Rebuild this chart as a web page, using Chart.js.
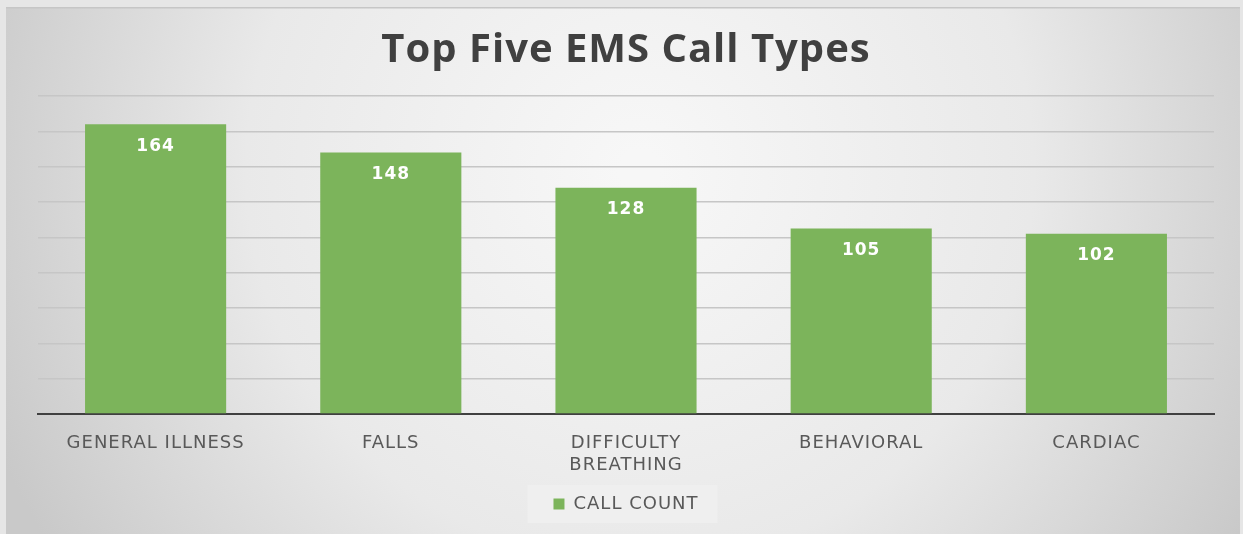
<!DOCTYPE html>
<html lang="en">
<head>
    <meta charset="UTF-8">
    <title>Top Five EMS Call Types</title>
    <style>
        html, body { margin: 0; padding: 0; background: #e6e6e6; }
        #wrap { width: 1243px; height: 534px; }
    </style>
</head>
<body>
    <div id="wrap"><canvas id="myChart" width="1243" height="534"></canvas></div>
    <script src="https://cdn.jsdelivr.net/npm/chart.js"></script>
    <script>
        // datos
        const categories = ['GENERAL ILLNESS', 'FALLS', ['DIFFICULTY', 'BREATHING'], 'BEHAVIORAL', 'CARDIAC'];
        const callCount = [164, 148, 128, 105, 102];
        const seriesName = 'CALL COUNT';
        const barColor = '#7cb45b';

        // el texto original es algo mas ancho: un poco de espaciado entre letras
        const spacing = {
            id: 'spacing',
            beforeUpdate(chart) { chart.ctx.letterSpacing = '1px'; }
        };

        // fondo con degradado y recuadro de la leyenda
        const backdrop = {
            id: 'backdrop',
            beforeDraw(chart) {
                const ctx = chart.ctx;
                const w = chart.width, h = chart.height;
                ctx.save();
                ctx.fillStyle = '#e6e6e6';
                ctx.fillRect(0, 0, w, h);
                const g = ctx.createRadialGradient(640, 170, 20, 640, 170, 700);
                g.addColorStop(0, '#f7f7f7');
                g.addColorStop(0.55, '#e9e9e9');
                g.addColorStop(1, '#c9c9c9');
                ctx.fillStyle = g;
                ctx.fillRect(6, 7, w - 9, h - 7);
                ctx.fillStyle = '#c6c6c6';
                ctx.fillRect(6, 7, w - 9, 1.5);

                const lg = chart.legend;
                if (lg && lg.legendHitBoxes && lg.legendHitBoxes.length) {
                    const hb = lg.legendHitBoxes[0];
                    ctx.fillStyle = 'rgba(240,240,240,0.85)';
                    ctx.fillRect(hb.left - 26, hb.top - 10, hb.width + 45, hb.height + 20);
                }
                ctx.restore();
            }
        };

        // etiquetas de valor dentro de las barras
        const barLabels = {
            id: 'barLabels',
            afterDatasetsDraw(chart) {
                const ctx = chart.ctx;
                const meta = chart.getDatasetMeta(0);
                ctx.save();
                ctx.fillStyle = '#ffffff';
                ctx.font = 'bold 17px "DejaVu Sans"';
                ctx.textAlign = 'center';
                ctx.textBaseline = 'middle';
                meta.data.forEach((bar, i) => {
                    ctx.fillText(callCount[i], bar.x, bar.y + 22);
                });
                ctx.restore();
            }
        };

        const ctx = document.getElementById('myChart').getContext('2d');
        new Chart(ctx, {
            type: 'bar',
            data: {
                labels: categories,
                datasets: [{
                    label: seriesName,
                    data: callCount,
                    backgroundColor: barColor,
                    borderWidth: 0,
                    barPercentage: 0.6,
                    categoryPercentage: 1
                }]
            },
            plugins: [spacing, backdrop, barLabels],
            options: {
                responsive: false,
                animation: false,
                layout: { padding: { left: 38, right: 29, top: 0, bottom: 11 } },
                plugins: {
                    title: {
                        display: true,
                        text: 'Top Five EMS Call Types',
                        color: '#404040',
                        font: { family: '"Open Sans"', size: 40, weight: 'bold', lineHeight: 1.2 },
                        padding: { top: 27, bottom: 21 }
                    },
                    legend: {
                        position: 'bottom',
                        labels: {
                            color: '#595959',
                            font: { family: '"DejaVu Sans"', size: 18 },
                            boxWidth: 11,
                            boxHeight: 11,
                            padding: 10
                        }
                    },
                    tooltip: { enabled: false }
                },
                scales: {
                    x: {
                        grid: { display: false },
                        border: { color: '#404040', width: 2 },
                        ticks: {
                            color: '#595959',
                            font: { family: '"DejaVu Sans"', size: 18, lineHeight: 1.25 },
                            padding: 10,
                            maxRotation: 0,
                            autoSkip: false
                        },
                        afterFit(scale) { scale.height = 71; }
                    },
                    y: {
                        min: 0,
                        max: 180,
                        ticks: { display: false, stepSize: 20 },
                        grid: { color: '#c6c6c6', lineWidth: 1.6, drawTicks: false },
                        border: { display: false },
                        afterFit(scale) { scale.width = 0; }
                    }
                }
            }
        });
    </script>
</body>
</html>
